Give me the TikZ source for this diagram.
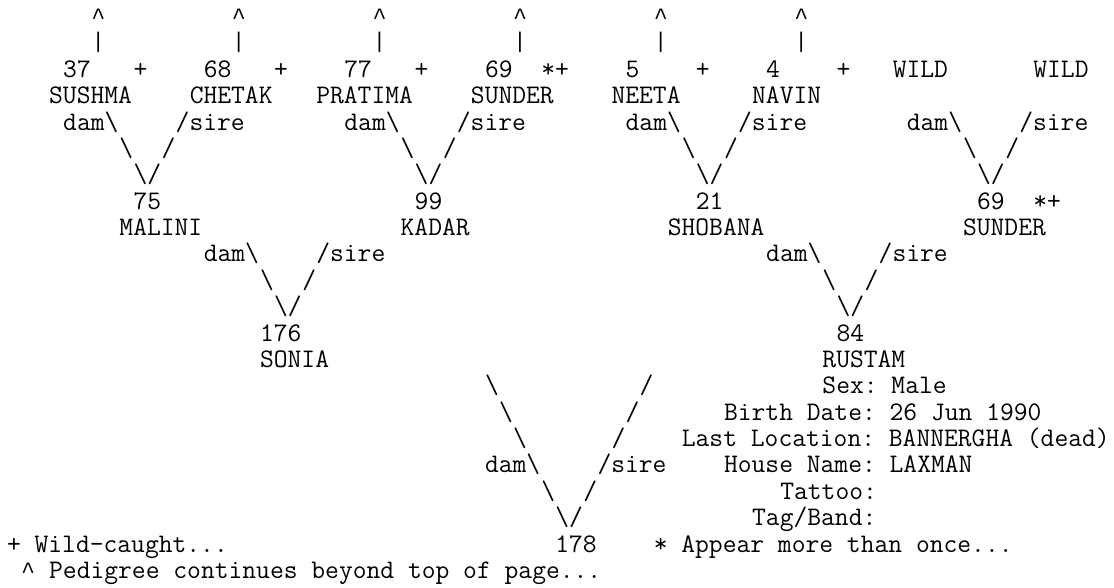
\documentclass[tikz,border=0pt]{standalone}
\usepackage{fontspec}
\newfontfamily\caretfont{Liberation Mono}
\begin{document}
\begin{tikzpicture}[x=1pt,y=1pt,
  tok/.style={anchor=base west,inner sep=0pt,outer sep=0pt,
    font=\ttfamily\fontsize{26.8}{30}\selectfont\frenchspacing}]
\fill[white] (0,0) rectangle (1114,-587);
\useasboundingbox (0,0) rectangle (1114,-587);
\newcommand\tok[4]{\node[tok] (#1) at ({7+14.06*(#2)},{-(24.6+26.37*(#3))}) {#4};}
\newcommand\bs{\textbackslash}
\newcommand\ca{\makebox[14.06pt]{\caretfont\fontsize{23.4}{26}\selectfont\char"5E}}
% line 0 and 1: continuation marks
\foreach \c/\n in {6/a,16/b,26/c,36/d,46/e,56/f}{
  \tok{up\n}{\c}{0}{\ca}
  \tok{bar\n}{\c}{1}{|}
}
% line 2
\tok{n37}{4}{2}{37}   \tok{w1}{9}{2}{+}
\tok{n68}{14}{2}{68}  \tok{w2}{19}{2}{+}
\tok{n77}{24}{2}{77}  \tok{w3}{29}{2}{+}
\tok{n69a}{34}{2}{69} \tok{w4}{38}{2}{*+}
\tok{n5}{44}{2}{5}    \tok{w5}{49}{2}{+}
\tok{n4}{54}{2}{4}    \tok{w6}{59}{2}{+}
\tok{wild1}{63}{2}{WILD} \tok{wild2}{73}{2}{WILD}
% line 3
\tok{sushma}{3}{3}{SUSHMA} \tok{chetak}{13}{3}{CHETAK}
\tok{pratima}{22}{3}{PRATIMA} \tok{sunderA}{33}{3}{SUNDER}
\tok{neeta}{43}{3}{NEETA} \tok{navin}{53}{3}{NAVIN}
% line 4-6: first generation links
\foreach \o/\n in {0/a,20/b,40/c,60/d}{
  \tok{dam\n}{4+\o}{4}{dam\bs}
  \tok{sire\n}{12+\o}{4}{/sire}
  \tok{la\n}{8+\o}{5}{\bs}
  \tok{ra\n}{11+\o}{5}{/}
  \tok{v\n}{9+\o}{6}{\bs/}
}
% line 7-8
\tok{n75}{9}{7}{75} \tok{n99}{29}{7}{99} \tok{n21}{49}{7}{21}
\tok{n69b}{69}{7}{69} \tok{w7}{73}{7}{*+}
\tok{malini}{8}{8}{MALINI} \tok{kadar}{28}{8}{KADAR}
\tok{shobana}{47}{8}{SHOBANA} \tok{sunderB}{68}{8}{SUNDER}
% line 9-11
\foreach \o/\n in {0/e,40/f}{
  \tok{dam\n}{14+\o}{9}{dam\bs}
  \tok{sire\n}{22+\o}{9}{/sire}
  \tok{la\n}{18+\o}{10}{\bs}
  \tok{ra\n}{21+\o}{10}{/}
  \tok{v\n}{19+\o}{11}{\bs/}
}
% line 12-13
\tok{n176}{18}{12}{176} \tok{n84}{59}{12}{84}
\tok{sonia}{18}{13}{SONIA} \tok{rustam}{58}{13}{RUSTAM}
% line 14-19: last links and details
\tok{lg1}{34}{14}{\bs} \tok{rg1}{45}{14}{/}
\tok{lg2}{35}{15}{\bs} \tok{rg2}{44}{15}{/}
\tok{lg3}{36}{16}{\bs} \tok{rg3}{43}{16}{/}
\tok{damg}{34}{17}{dam\bs} \tok{sireg}{42}{17}{/sire}
\tok{lg5}{38}{18}{\bs} \tok{rg5}{41}{18}{/}
\tok{vg}{39}{19}{\bs/}
\tok{sex}{58}{14}{Sex: Male}
\tok{birth}{51}{15}{Birth Date: 26 Jun 1990}
\tok{loc}{48}{16}{Last Location: BANNERGHA (dead)}
\tok{house}{51}{17}{House Name: LAXMAN}
\tok{tattoo}{55}{18}{Tattoo:}
\tok{tag}{53}{19}{Tag/Band:}
% line 20-21
\tok{legwild}{0}{20}{+ Wild-caught...}
\tok{n178}{39}{20}{178}
\tok{legonce}{46}{20}{* Appear more than once...}
\tok{legcaret}{1}{21}{\ca}
\tok{legcont}{3}{21}{Pedigree continues beyond top of page...}
\end{tikzpicture}
\end{document}
